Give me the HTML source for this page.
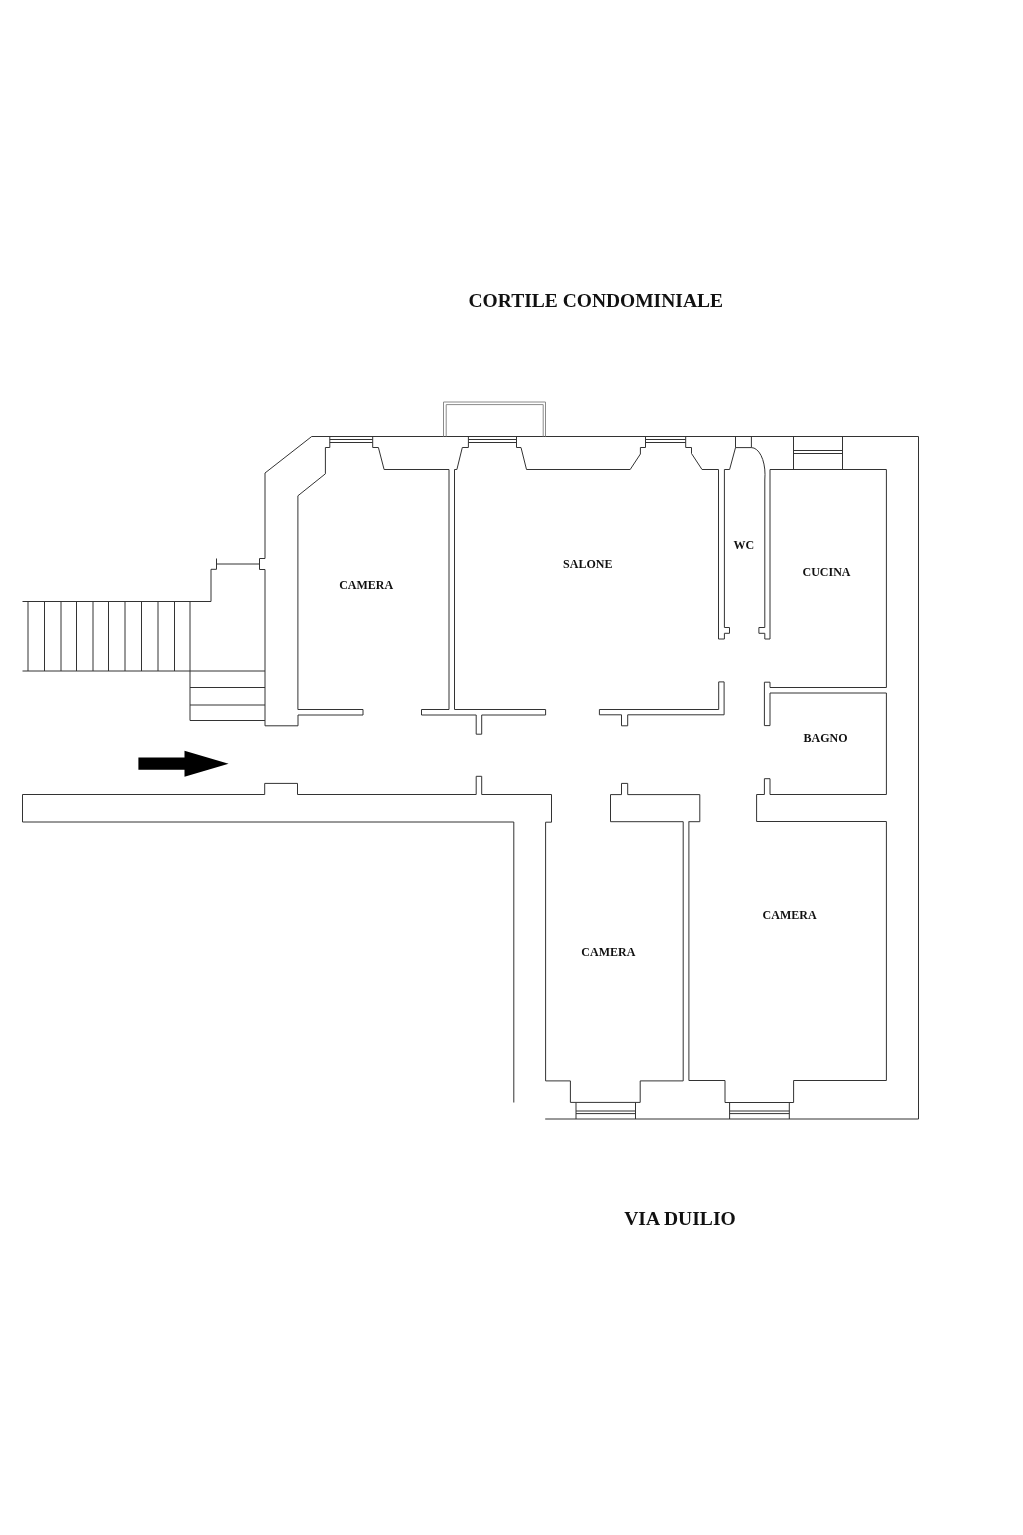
<!DOCTYPE html>
<html><head><meta charset="utf-8"><style>
html,body{margin:0;padding:0;background:#fff;width:1023px;height:1535px;overflow:hidden;}
svg{display:block;}
text{font-family:"Liberation Serif",serif;font-weight:bold;}
</style></head><body>
<svg width="1023" height="1535" viewBox="0 0 1023 1535">
<rect width="1023" height="1535" fill="#fff"/>
<g fill="none" stroke="#333" stroke-width="1" stroke-linejoin="miter">
<path d="M311.7 436.5L918.5 436.5"/>
<path d="M311.7 436.5L265 473L265 558.5L259.5 558.5L259.5 569.5L265 569.5L265 725.8L298 725.8L298 715"/>
<path d="M216.5 564L259.5 564"/>
<path d="M216.5 558.5L216.5 569.3L211 569.3L211 601.5L22.5 601.5"/>
<path d="M28.0 601.5L28.0 671"/>
<path d="M44.5 601.5L44.5 671"/>
<path d="M61.0 601.5L61.0 671"/>
<path d="M76.5 601.5L76.5 671"/>
<path d="M93.0 601.5L93.0 671"/>
<path d="M108.5 601.5L108.5 671"/>
<path d="M125.0 601.5L125.0 671"/>
<path d="M141.5 601.5L141.5 671"/>
<path d="M158.0 601.5L158.0 671"/>
<path d="M174.5 601.5L174.5 671"/>
<path d="M190 601.5L190 720.5"/>
<path d="M22.5 671L265 671"/>
<path d="M190 687.5L265 687.5"/>
<path d="M190 705.0L265 705.0"/>
<path d="M190 720.5L265 720.5"/>
<path d="M329.8 436.5L329.8 447.5L325.4 447.5L325.4 473.8L297.9 495.8L297.9 709.5L363 709.5L363 715L298 715"/>
<path d="M329.8 439.5L372.7 439.5"/>
<path d="M329.8 442.5L372.7 442.5"/>
<path d="M372.7 436.5L372.7 447.5L378.4 447.5L384.1 469.5L449 469.5"/>
<path d="M454.5 469.5L456.9 469.5L462.3 447.5L468.4 447.5L468.4 436.5"/>
<path d="M468.4 439.5L516.5 439.5"/>
<path d="M468.4 442.5L516.5 442.5"/>
<path d="M516.5 436.5L516.5 447.5L521 447.5L526.5 469.5L630.2 469.5L640.4 454L640.4 447.5L645.5 447.5L645.5 436.5"/>
<path d="M645.5 439.5L685.7 439.5"/>
<path d="M645.5 442.5L685.7 442.5"/>
<path d="M685.7 436.5L685.7 447.5L691.5 447.5L691.5 453.5L702 469.5L718.5 469.5"/>
<path d="M718.5 469.5L718.5 639L724.4 639L724.4 633.3L729.5 633.3L729.5 627.5L724.4 627.5L724.4 469.5L729.6 469.5L735.5 447.6L751.4 447.6"/>
<path d="M735.5 436.5L735.5 447.6"/>
<path d="M751.4 436.5L751.4 447.6"/>
<path d="M751.4 447.6A13.6 26.7 0 0 1 765 474.3L764.8 480L764.8 627.5L758.9 627.5L758.9 633.3L764.8 633.3L764.8 639L770 639L770 469.5"/>
<path d="M770 469.5L886.4 469.5L886.4 687.5L770 687.5"/>
<path d="M793.5 436.5L793.5 469.5"/>
<path d="M842.5 436.5L842.5 469.5"/>
<path d="M793.5 450.5L842.5 450.5"/>
<path d="M793.5 453.5L842.5 453.5"/>
<path d="M770 687.5L770 682.2L764.4 682.2L764.4 725.6L770 725.6L770 693L886.4 693L886.4 794.5L770 794.5L770 778.7L764.4 778.7L764.4 794.5L756.6 794.5L756.6 821.5L886.4 821.5L886.4 1080.5L793.6 1080.5L793.6 1102.5L725 1102.5L725 1080.5L688.9 1080.5L688.9 821.7"/>
<path d="M918.5 436.5L918.5 1119L545.2 1119"/>
<path d="M576 1102.5L576 1119"/>
<path d="M635.5 1102.5L635.5 1119"/>
<path d="M576 1111L635.5 1111"/>
<path d="M576 1113.6L635.5 1113.6"/>
<path d="M729.6 1102.5L729.6 1119"/>
<path d="M789.3 1102.5L789.3 1119"/>
<path d="M729.6 1111L789.3 1111"/>
<path d="M729.6 1113.6L789.3 1113.6"/>
<path d="M683.2 821.7L683.2 1080.9L640.2 1080.9L640.2 1102.4L570.4 1102.4L570.4 1080.9L545.6 1080.9L545.6 822.2L551.5 822.2L551.5 794.5L481.7 794.5L481.7 776.3L476.2 776.3L476.2 794.5L297.5 794.5L297.5 783.4L264.7 783.4L264.7 794.5L22.5 794.5L22.5 822L513.8 822L513.8 1102.5"/>
<path d="M688.6 821.7L699.8 821.7L699.8 794.6L627.7 794.6L627.7 783.4L621.5 783.4L621.5 794.6L610.5 794.6L610.5 821.7L683.2 821.7"/>
<path d="M449 469.5L449 709.5L421.5 709.5L421.5 715L476.2 715L476.2 734.2L481.7 734.2L481.7 715L545.6 715L545.6 709.5L454.5 709.5L454.5 469.5"/>
<path d="M599.4 709.5L718.7 709.5L718.7 681.9L724.1 681.9L724.1 714.8L627.7 714.8L627.7 725.8L621.5 725.8L621.5 714.8L599.4 714.8Z"/>
<path d="M443.5 436.5L443.5 402L545.5 402L545.5 436.5" stroke="#8a8a8a"/>
<path d="M446.2 436.5L446.2 404.6L543.2 404.6L543.2 436.5" stroke="#8a8a8a"/>
</g>
<polygon points="138.4,757.5 184.5,757.5 184.5,750.7 228.6,763.8 184.5,776.8 184.5,769.8 138.4,769.8" fill="#000" stroke="none"/>
<g fill="#111" style="will-change:transform">
<text x="468.5" y="307.4" font-size="19.5">CORTILE CONDOMINIALE</text>
<text x="624.2" y="1224.9" font-size="19.6">VIA DUILIO</text>
<text x="339.2" y="589.0" font-size="12">CAMERA</text>
<text x="563.1" y="568.1" font-size="12">SALONE</text>
<text x="733.5" y="549.0" font-size="12">WC</text>
<text x="802.5" y="575.5" font-size="12">CUCINA</text>
<text x="803.5" y="742.2" font-size="12">BAGNO</text>
<text x="581.3" y="956.1" font-size="12">CAMERA</text>
<text x="762.6" y="919.4" font-size="12">CAMERA</text>
</g>
</svg>
</body></html>
